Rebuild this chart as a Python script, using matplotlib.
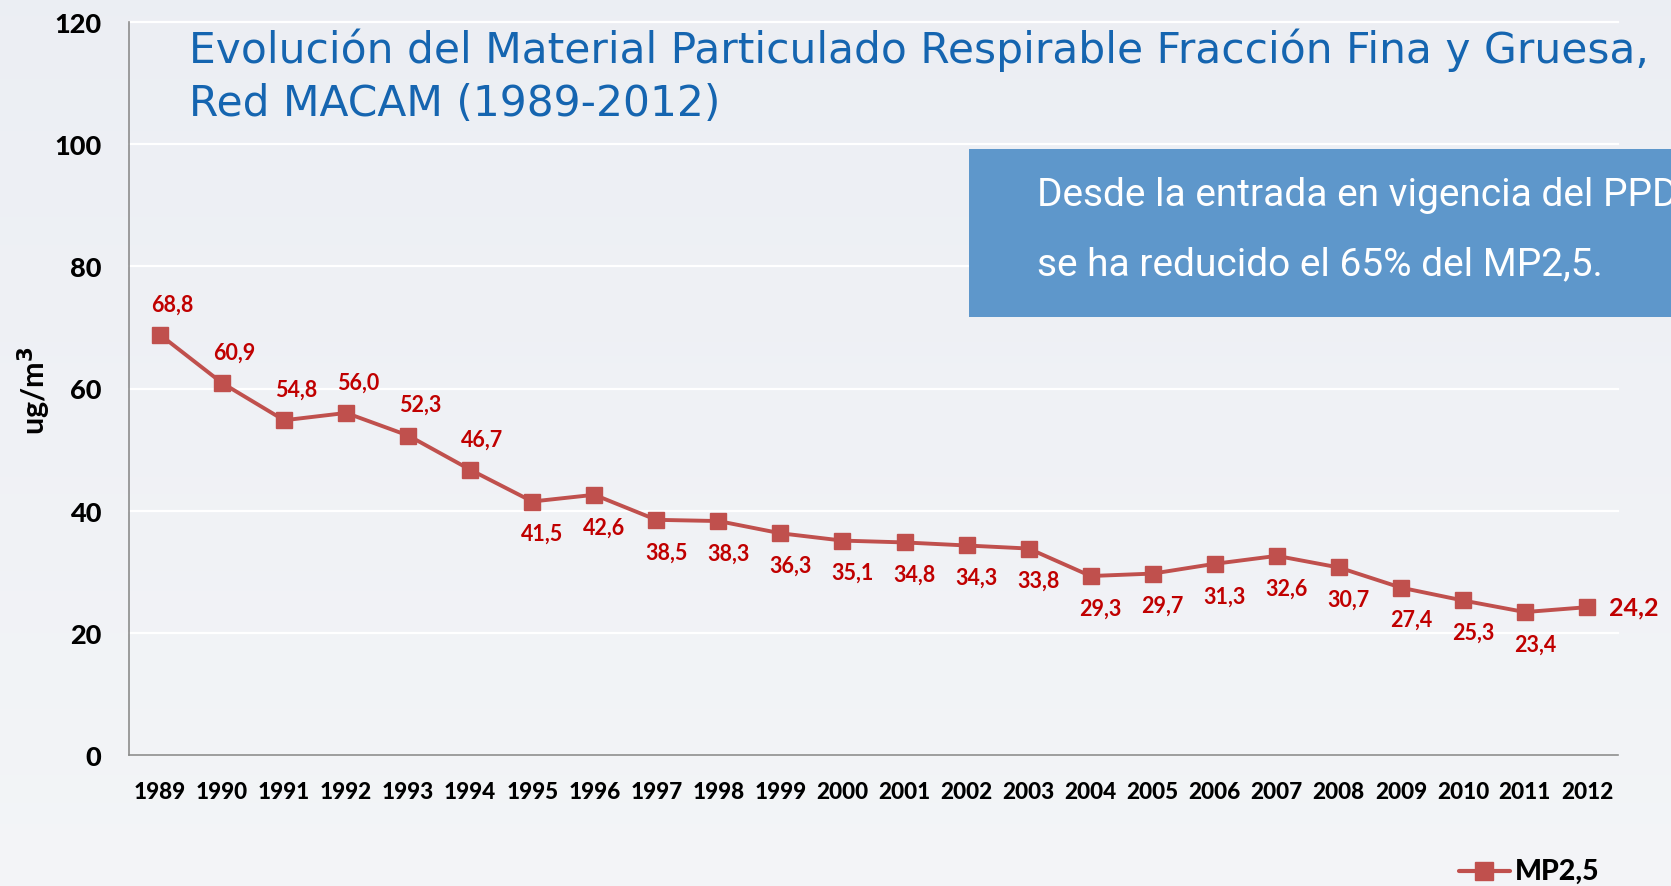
import numpy as np
import matplotlib
matplotlib.use("Agg")
import matplotlib.pyplot as plt
from matplotlib.patches import Rectangle

years = ["1989", "1990", "1991", "1992", "1993", "1994", "1995", "1996", "1997", "1998",
         "1999", "2000", "2001", "2002", "2003", "2004", "2005", "2006", "2007", "2008",
         "2009", "2010", "2011", "2012"]
mp25 = [68.8, 60.9, 54.8, 56.0, 52.3, 46.7, 41.5, 42.6, 38.5, 38.3,
        36.3, 35.1, 34.8, 34.3, 33.8, 29.3, 29.7, 31.3, 32.6, 30.7,
        27.4, 25.3, 23.4, 24.2]
label_pos = ["a", "a", "a", "a", "a", "a", "b", "b", "b", "b",
             "b", "b", "b", "b", "b", "b", "b", "b", "b", "b",
             "b", "b", "b", "r"]
yticks = [0, 20, 40, 60, 80, 100, 120]
title = "Evolución del Material Particulado Respirable Fracción Fina y Gruesa,\nRed MACAM (1989-2012)"
box_text = ["Desde la entrada en vigencia del PPDA", "se ha reducido el 65% del MP2,5."]
series_name = "MP2,5"

W, H = 1671, 887
fig = plt.figure(figsize=(W / 100, H / 100), dpi=100)

# background gradient
bg = fig.add_axes([0, 0, 1, 1], zorder=-10)
g = np.linspace(0, 1, 256).reshape(-1, 1)
c_top = np.array([0.925, 0.935, 0.955])
c_bot = np.array([0.955, 0.960, 0.970])
img = c_top + (c_bot - c_top) * g[..., None]
bg.imshow(np.repeat(img, 4, axis=1), aspect="auto", extent=[0, 1, 0, 1])
bg.set_axis_off()

ax = fig.add_axes([129 / W, 1 - 756 / H, (1618 - 129) / W, (756 - 23) / H])
ax.patch.set_alpha(0)
x = np.arange(len(years))
red = "#c0504d"
ax.plot(x, mp25, color=red, lw=2.8, marker="s", markersize=11.5, zorder=5)

ax.set_xlim(-0.5, len(years) - 0.5)
ax.set_ylim(0, 120)
ax.set_yticks(yticks)
ax.set_xticks(x)
ax.set_xticklabels(years)
ax.grid(axis="y", color="white", lw=1.6)
for gl in ax.get_ygridlines():
    gl.set_clip_on(False)
ax.set_axisbelow(True)
for s in ["top", "right"]:
    ax.spines[s].set_visible(False)
for s in ["left", "bottom"]:
    ax.spines[s].set_color("#8c8c8c")
    ax.spines[s].set_linewidth(1.2)
ax.tick_params(axis="both", length=0)
ax.tick_params(axis="y", pad=20, labelsize=19.5)
ax.tick_params(axis="x", pad=19, labelsize=16.2)
for t in ax.get_xticklabels() + ax.get_yticklabels():
    t.set_fontfamily("Lato")
    t.set_fontweight("black")
    t.set_color("black")

fig.text(34 / W, 1 - 391 / H, "ug/m$^\\mathbf{3}$", rotation=90, ha="center", va="center",
         fontsize=22, fontweight="bold", family="Lato")

for xi, v, p in zip(x, mp25, label_pos):
    lab = f"{v:.1f}".replace(".", ",")
    if p == "a":
        off, ha = (12, 31), "center"
    elif p == "b":
        off, ha = (10, -32), "center"
    else:
        off, ha = (22, 0), "left"
    ax.annotate(lab, (xi, v), xytext=off, textcoords="offset pixels", ha=ha, va="center",
                color="#c00000", fontsize=15.5 if p != "r" else 18, fontweight="bold", family="Lato",
                zorder=6)

fig.text(189 / W, 1 - 29 / H, title, ha="left", va="top", fontsize=30.5, color="#1565b0",
         family="DejaVu Sans", linespacing=1.33)

fig.patches.append(Rectangle((969 / W, 1 - 318 / H), (W - 969) / W, 168 / H,
                             transform=fig.transFigure, facecolor="#5e97cb", edgecolor="none", zorder=3))
fig.text(1037 / W, 1 - 196 / H, box_text[0], ha="left", va="center", fontsize=28, color="white",
         family="Roboto", zorder=4)
fig.text(1037 / W, 1 - 265 / H, box_text[1], ha="left", va="center", fontsize=28, color="white",
         family="Roboto", zorder=4)

# legend
leg_ax = fig.add_axes([0, 0, 1, 1], zorder=5)
leg_ax.set_axis_off()
leg_ax.set_xlim(0, W)
leg_ax.set_ylim(H, 0)
leg_ax.plot([1459, 1510], [872, 872], color=red, lw=3, solid_capstyle="round")
leg_ax.plot([1484], [872], marker="s", color=red, markersize=13)
leg_ax.text(1515, 872, series_name, ha="left", va="center", fontsize=20.5, fontweight="black",
            family="Lato", color="black")

fig.savefig("out.png", dpi=100)
